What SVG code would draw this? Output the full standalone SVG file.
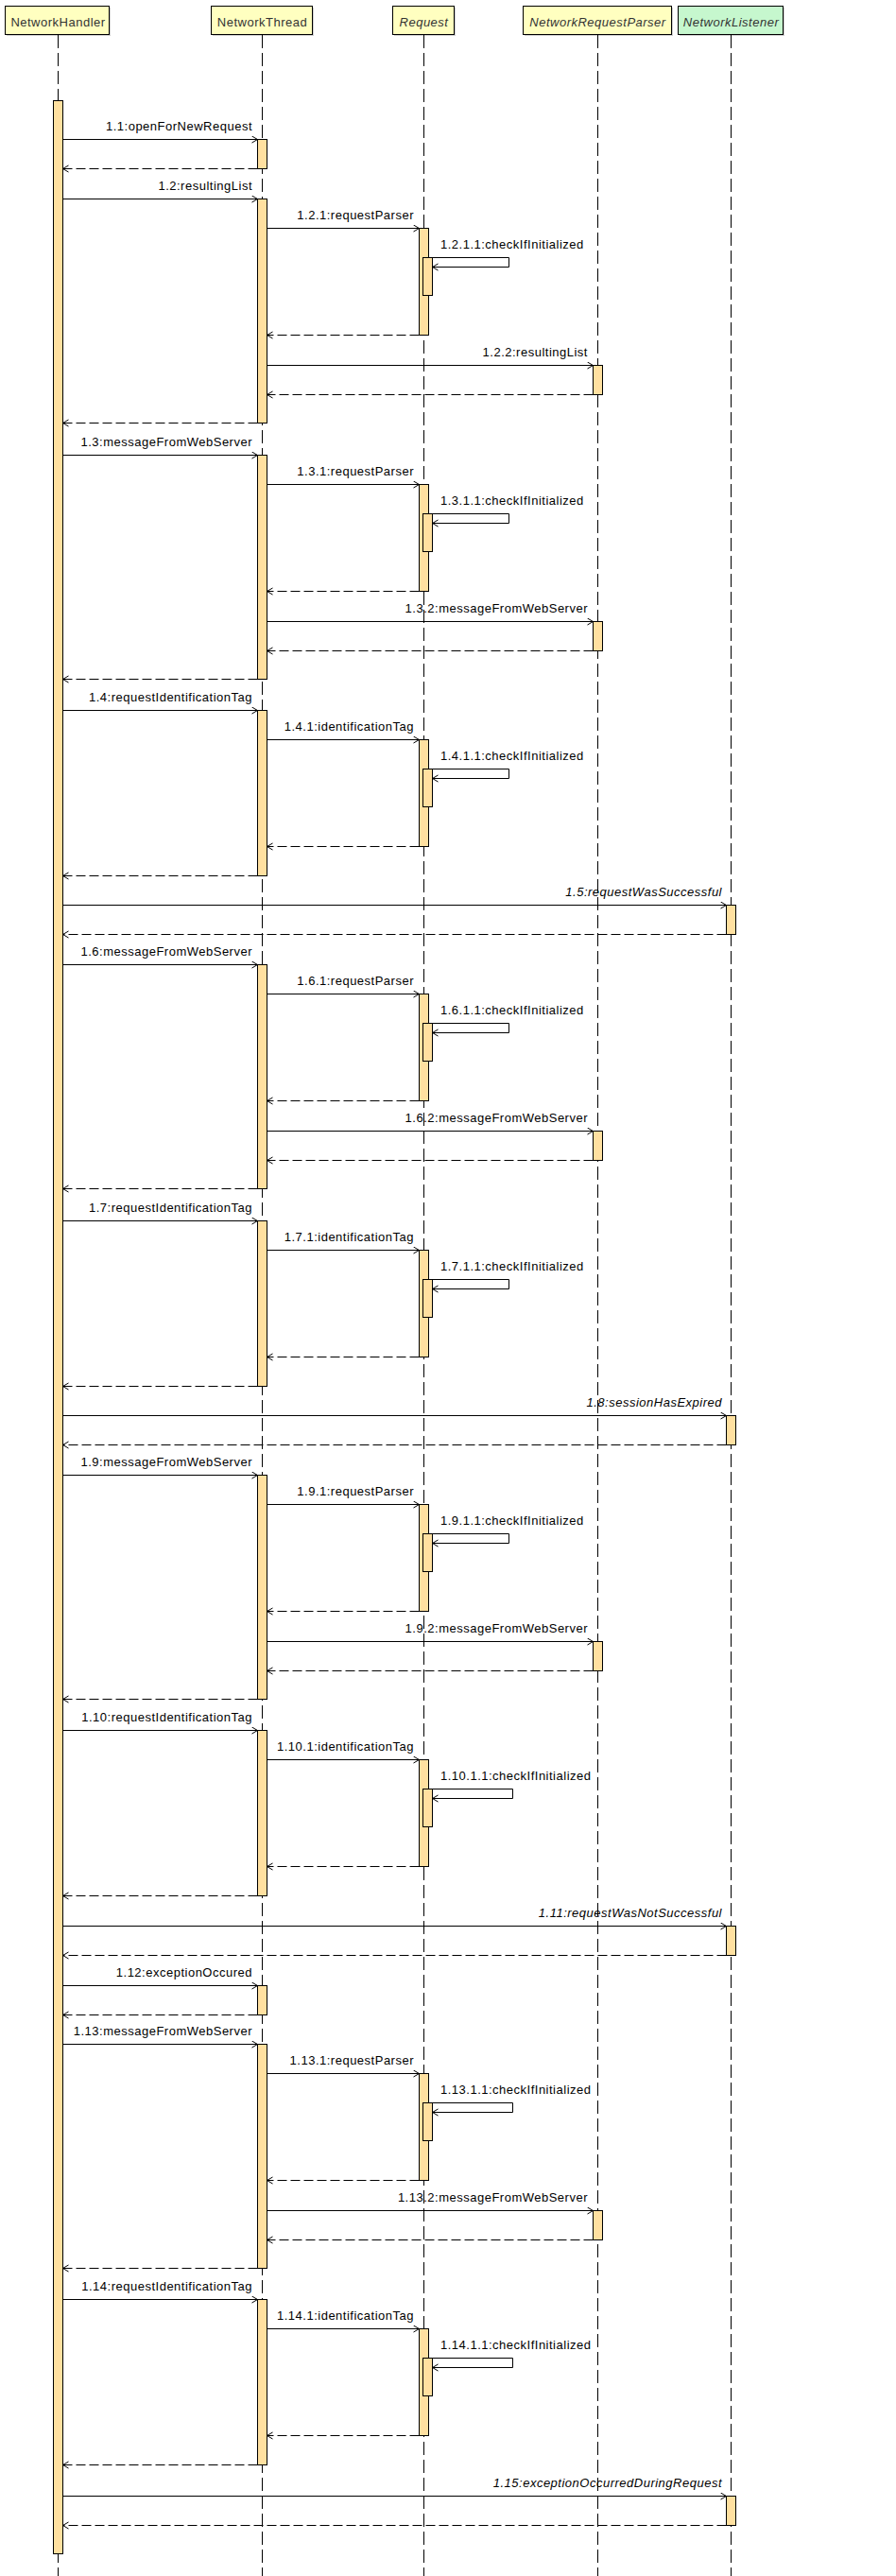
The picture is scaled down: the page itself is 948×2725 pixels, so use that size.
<svg xmlns="http://www.w3.org/2000/svg" width="948" height="2725" viewBox="0 0 948 2725">
<style>
text{font-family:"Liberation Sans",Arial,sans-serif;font-size:13px;letter-spacing:0.5px;fill:#000}
.ht{fill:#333;text-anchor:middle}
.it{font-style:italic}
.lbl{text-anchor:end}
.hdr{fill:#FFFFC0;stroke:#000;stroke-width:1}
.hdrg{fill:#C6F7CE;stroke:#000;stroke-width:1}
.sh{fill:#cfcfcf}
.ll{stroke:#000;stroke-width:1;stroke-dasharray:14 5;fill:none}
.act{fill:#FFE0A0;stroke:#000;stroke-width:1}
.msg{stroke:#000;stroke-width:1;fill:none;marker-end:url(#ah)}
.ret{stroke:#000;stroke-width:1;fill:none;stroke-dasharray:10 4;marker-end:url(#ah)}
</style>
<defs>
<marker id="ah" markerWidth="9" markerHeight="9" refX="7" refY="4" orient="auto" markerUnits="userSpaceOnUse">
<path d="M1,0.5 L7,4 L1,7.5" fill="none" stroke="#000" stroke-width="1"/>
</marker>
</defs>
<rect width="948" height="2725" fill="#fff"/>

<g id="NetworkHandler">
<rect class="sh" x="7" y="8" width="110" height="30"/>
<rect class="hdr" x="5.5" y="6.5" width="110" height="30"/>
<text class="ht" x="61.5" y="28">NetworkHandler</text>
<line class="ll" x1="61.5" y1="37" x2="61.5" y2="2725"/>
<rect class="act" x="56.5" y="106.5" width="10" height="2595"/>
</g>

<g id="NetworkThread">
<rect class="sh" x="225" y="8" width="107" height="30"/>
<rect class="hdr" x="223.5" y="6.5" width="107" height="30"/>
<text class="ht" x="277.5" y="28">NetworkThread</text>
<line class="ll" x1="277.5" y1="37" x2="277.5" y2="2725"/>
<rect class="act" x="272.5" y="147.5" width="10" height="31"/>
<rect class="act" x="272.5" y="210.5" width="10" height="237"/>
<rect class="act" x="272.5" y="481.5" width="10" height="237"/>
<rect class="act" x="272.5" y="751.5" width="10" height="175"/>
<rect class="act" x="272.5" y="1020.5" width="10" height="237"/>
<rect class="act" x="272.5" y="1291.5" width="10" height="175"/>
<rect class="act" x="272.5" y="1560.5" width="10" height="237"/>
<rect class="act" x="272.5" y="1830.5" width="10" height="175"/>
<rect class="act" x="272.5" y="2100.5" width="10" height="31"/>
<rect class="act" x="272.5" y="2162.5" width="10" height="237"/>
<rect class="act" x="272.5" y="2432.5" width="10" height="175"/>
</g>

<g id="Request">
<rect class="sh" x="417" y="8" width="65" height="30"/>
<rect class="hdr" x="415.5" y="6.5" width="65" height="30"/>
<text class="ht it" x="448.5" y="28">Request</text>
<line class="ll" x1="448.5" y1="37" x2="448.5" y2="2725"/>
<rect class="act" x="443.5" y="241.5" width="10" height="113"/>
<rect class="act" x="447.5" y="272.5" width="10" height="40"/>
<rect class="act" x="443.5" y="512.5" width="10" height="113"/>
<rect class="act" x="447.5" y="543.5" width="10" height="40"/>
<rect class="act" x="443.5" y="782.5" width="10" height="113"/>
<rect class="act" x="447.5" y="813.5" width="10" height="40"/>
<rect class="act" x="443.5" y="1051.5" width="10" height="113"/>
<rect class="act" x="447.5" y="1082.5" width="10" height="40"/>
<rect class="act" x="443.5" y="1322.5" width="10" height="113"/>
<rect class="act" x="447.5" y="1353.5" width="10" height="40"/>
<rect class="act" x="443.5" y="1591.5" width="10" height="113"/>
<rect class="act" x="447.5" y="1622.5" width="10" height="40"/>
<rect class="act" x="443.5" y="1861.5" width="10" height="113"/>
<rect class="act" x="447.5" y="1892.5" width="10" height="40"/>
<rect class="act" x="443.5" y="2193.5" width="10" height="113"/>
<rect class="act" x="447.5" y="2224.5" width="10" height="40"/>
<rect class="act" x="443.5" y="2463.5" width="10" height="113"/>
<rect class="act" x="447.5" y="2494.5" width="10" height="40"/>
</g>

<g id="NetworkRequestParser">
<rect class="sh" x="555" y="8" width="157" height="30"/>
<rect class="hdr" x="553.5" y="6.5" width="157" height="30"/>
<text class="ht it" x="632.5" y="28">NetworkRequestParser</text>
<line class="ll" x1="632.5" y1="37" x2="632.5" y2="2725"/>
<rect class="act" x="627.5" y="386.5" width="10" height="31"/>
<rect class="act" x="627.5" y="657.5" width="10" height="31"/>
<rect class="act" x="627.5" y="1196.5" width="10" height="31"/>
<rect class="act" x="627.5" y="1736.5" width="10" height="31"/>
<rect class="act" x="627.5" y="2338.5" width="10" height="31"/>
</g>

<g id="NetworkListener">
<rect class="sh" x="719" y="8" width="111" height="30"/>
<rect class="hdrg" x="717.5" y="6.5" width="111" height="30"/>
<text class="ht it" x="773.5" y="28">NetworkListener</text>
<line class="ll" x1="773.5" y1="37" x2="773.5" y2="2725"/>
<rect class="act" x="768.5" y="957.5" width="10" height="31"/>
<rect class="act" x="768.5" y="1497.5" width="10" height="31"/>
<rect class="act" x="768.5" y="2037.5" width="10" height="31"/>
<rect class="act" x="768.5" y="2640.5" width="10" height="31"/>
</g>

<g id="connectors">
<!-- 1.1 -->
<line class="msg" x1="66.5" y1="147.5" x2="272.5" y2="147.5"/>
<text class="lbl" x="267" y="138">1.1:openForNewRequest</text>
<line class="ret" x1="272.5" y1="178.5" x2="66.5" y2="178.5"/>

<!-- 1.2 -->
<line class="msg" x1="66.5" y1="210.5" x2="272.5" y2="210.5"/>
<text class="lbl" x="267" y="201">1.2:resultingList</text>
<line class="msg" x1="282.5" y1="241.5" x2="443.5" y2="241.5"/>
<text class="lbl" x="438" y="232">1.2.1:requestParser</text>
<path class="msg" d="M457.5,272.5 H538.5 V282.5 H457.5"/>
<text x="466" y="262.5">1.2.1.1:checkIfInitialized</text>
<line class="ret" x1="443.5" y1="354.5" x2="282.5" y2="354.5"/>
<line class="msg" x1="282.5" y1="386.5" x2="627.5" y2="386.5"/>
<text class="lbl" x="622" y="377">1.2.2:resultingList</text>
<line class="ret" x1="627.5" y1="417.5" x2="282.5" y2="417.5"/>
<line class="ret" x1="272.5" y1="447.5" x2="66.5" y2="447.5"/>

<!-- 1.3 -->
<line class="msg" x1="66.5" y1="481.5" x2="272.5" y2="481.5"/>
<text class="lbl" x="267" y="472">1.3:messageFromWebServer</text>
<line class="msg" x1="282.5" y1="512.5" x2="443.5" y2="512.5"/>
<text class="lbl" x="438" y="503">1.3.1:requestParser</text>
<path class="msg" d="M457.5,543.5 H538.5 V553.5 H457.5"/>
<text x="466" y="533.5">1.3.1.1:checkIfInitialized</text>
<line class="ret" x1="443.5" y1="625.5" x2="282.5" y2="625.5"/>
<line class="msg" x1="282.5" y1="657.5" x2="627.5" y2="657.5"/>
<text class="lbl" x="622" y="648">1.3.2:messageFromWebServer</text>
<line class="ret" x1="627.5" y1="688.5" x2="282.5" y2="688.5"/>
<line class="ret" x1="272.5" y1="718.5" x2="66.5" y2="718.5"/>

<!-- 1.4 -->
<line class="msg" x1="66.5" y1="751.5" x2="272.5" y2="751.5"/>
<text class="lbl" x="267" y="742">1.4:requestIdentificationTag</text>
<line class="msg" x1="282.5" y1="782.5" x2="443.5" y2="782.5"/>
<text class="lbl" x="438" y="773">1.4.1:identificationTag</text>
<path class="msg" d="M457.5,813.5 H538.5 V823.5 H457.5"/>
<text x="466" y="803.5">1.4.1.1:checkIfInitialized</text>
<line class="ret" x1="443.5" y1="895.5" x2="282.5" y2="895.5"/>
<line class="ret" x1="272.5" y1="926.5" x2="66.5" y2="926.5"/>

<!-- 1.5 -->
<line class="msg" x1="66.5" y1="957.5" x2="768.5" y2="957.5"/>
<text class="lbl it" x="764" y="948">1.5:requestWasSuccessful</text>
<line class="ret" x1="768.5" y1="988.5" x2="66.5" y2="988.5"/>

<!-- 1.6 -->
<line class="msg" x1="66.5" y1="1020.5" x2="272.5" y2="1020.5"/>
<text class="lbl" x="267" y="1011">1.6:messageFromWebServer</text>
<line class="msg" x1="282.5" y1="1051.5" x2="443.5" y2="1051.5"/>
<text class="lbl" x="438" y="1042">1.6.1:requestParser</text>
<path class="msg" d="M457.5,1082.5 H538.5 V1092.5 H457.5"/>
<text x="466" y="1072.5">1.6.1.1:checkIfInitialized</text>
<line class="ret" x1="443.5" y1="1164.5" x2="282.5" y2="1164.5"/>
<line class="msg" x1="282.5" y1="1196.5" x2="627.5" y2="1196.5"/>
<text class="lbl" x="622" y="1187">1.6.2:messageFromWebServer</text>
<line class="ret" x1="627.5" y1="1227.5" x2="282.5" y2="1227.5"/>
<line class="ret" x1="272.5" y1="1257.5" x2="66.5" y2="1257.5"/>

<!-- 1.7 -->
<line class="msg" x1="66.5" y1="1291.5" x2="272.5" y2="1291.5"/>
<text class="lbl" x="267" y="1282">1.7:requestIdentificationTag</text>
<line class="msg" x1="282.5" y1="1322.5" x2="443.5" y2="1322.5"/>
<text class="lbl" x="438" y="1313">1.7.1:identificationTag</text>
<path class="msg" d="M457.5,1353.5 H538.5 V1363.5 H457.5"/>
<text x="466" y="1343.5">1.7.1.1:checkIfInitialized</text>
<line class="ret" x1="443.5" y1="1435.5" x2="282.5" y2="1435.5"/>
<line class="ret" x1="272.5" y1="1466.5" x2="66.5" y2="1466.5"/>

<!-- 1.8 -->
<line class="msg" x1="66.5" y1="1497.5" x2="768.5" y2="1497.5"/>
<text class="lbl it" x="764" y="1488">1.8:sessionHasExpired</text>
<line class="ret" x1="768.5" y1="1528.5" x2="66.5" y2="1528.5"/>

<!-- 1.9 -->
<line class="msg" x1="66.5" y1="1560.5" x2="272.5" y2="1560.5"/>
<text class="lbl" x="267" y="1551">1.9:messageFromWebServer</text>
<line class="msg" x1="282.5" y1="1591.5" x2="443.5" y2="1591.5"/>
<text class="lbl" x="438" y="1582">1.9.1:requestParser</text>
<path class="msg" d="M457.5,1622.5 H538.5 V1632.5 H457.5"/>
<text x="466" y="1612.5">1.9.1.1:checkIfInitialized</text>
<line class="ret" x1="443.5" y1="1704.5" x2="282.5" y2="1704.5"/>
<line class="msg" x1="282.5" y1="1736.5" x2="627.5" y2="1736.5"/>
<text class="lbl" x="622" y="1727">1.9.2:messageFromWebServer</text>
<line class="ret" x1="627.5" y1="1767.5" x2="282.5" y2="1767.5"/>
<line class="ret" x1="272.5" y1="1797.5" x2="66.5" y2="1797.5"/>

<!-- 1.10 -->
<line class="msg" x1="66.5" y1="1830.5" x2="272.5" y2="1830.5"/>
<text class="lbl" x="267" y="1821">1.10:requestIdentificationTag</text>
<line class="msg" x1="282.5" y1="1861.5" x2="443.5" y2="1861.5"/>
<text class="lbl" x="438" y="1852">1.10.1:identificationTag</text>
<path class="msg" d="M457.5,1892.5 H542.5 V1902.5 H457.5"/>
<text x="466" y="1882.5">1.10.1.1:checkIfInitialized</text>
<line class="ret" x1="443.5" y1="1974.5" x2="282.5" y2="1974.5"/>
<line class="ret" x1="272.5" y1="2005.5" x2="66.5" y2="2005.5"/>

<!-- 1.11 -->
<line class="msg" x1="66.5" y1="2037.5" x2="768.5" y2="2037.5"/>
<text class="lbl it" x="764" y="2028">1.11:requestWasNotSuccessful</text>
<line class="ret" x1="768.5" y1="2068.5" x2="66.5" y2="2068.5"/>

<!-- 1.12 -->
<line class="msg" x1="66.5" y1="2100.5" x2="272.5" y2="2100.5"/>
<text class="lbl" x="267" y="2091">1.12:exceptionOccured</text>
<line class="ret" x1="272.5" y1="2131.5" x2="66.5" y2="2131.5"/>

<!-- 1.13 -->
<line class="msg" x1="66.5" y1="2162.5" x2="272.5" y2="2162.5"/>
<text class="lbl" x="267" y="2153">1.13:messageFromWebServer</text>
<line class="msg" x1="282.5" y1="2193.5" x2="443.5" y2="2193.5"/>
<text class="lbl" x="438" y="2184">1.13.1:requestParser</text>
<path class="msg" d="M457.5,2224.5 H542.5 V2234.5 H457.5"/>
<text x="466" y="2214.5">1.13.1.1:checkIfInitialized</text>
<line class="ret" x1="443.5" y1="2306.5" x2="282.5" y2="2306.5"/>
<line class="msg" x1="282.5" y1="2338.5" x2="627.5" y2="2338.5"/>
<text class="lbl" x="622" y="2329">1.13.2:messageFromWebServer</text>
<line class="ret" x1="627.5" y1="2369.5" x2="282.5" y2="2369.5"/>
<line class="ret" x1="272.5" y1="2399.5" x2="66.5" y2="2399.5"/>

<!-- 1.14 -->
<line class="msg" x1="66.5" y1="2432.5" x2="272.5" y2="2432.5"/>
<text class="lbl" x="267" y="2423">1.14:requestIdentificationTag</text>
<line class="msg" x1="282.5" y1="2463.5" x2="443.5" y2="2463.5"/>
<text class="lbl" x="438" y="2454">1.14.1:identificationTag</text>
<path class="msg" d="M457.5,2494.5 H542.5 V2504.5 H457.5"/>
<text x="466" y="2484.5">1.14.1.1:checkIfInitialized</text>
<line class="ret" x1="443.5" y1="2576.5" x2="282.5" y2="2576.5"/>
<line class="ret" x1="272.5" y1="2607.5" x2="66.5" y2="2607.5"/>

<!-- 1.15 -->
<line class="msg" x1="66.5" y1="2640.5" x2="768.5" y2="2640.5"/>
<text class="lbl it" x="764" y="2631">1.15:exceptionOccurredDuringRequest</text>
<line class="ret" x1="768.5" y1="2671.5" x2="66.5" y2="2671.5"/>
</g>
</svg>
